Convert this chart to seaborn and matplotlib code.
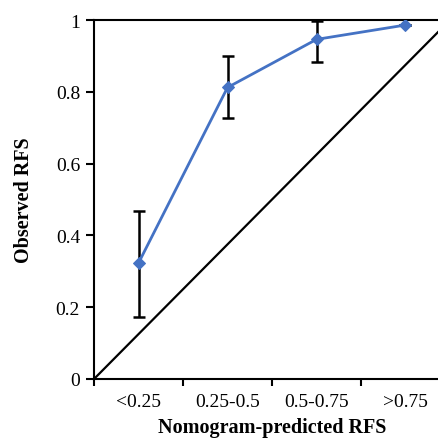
import numpy as np
import pandas as pd
import matplotlib
matplotlib.use("Agg")
import matplotlib.pyplot as plt
import seaborn as sns

categories = ["<0.25", "0.25-0.5", "0.5-0.75", ">0.75"]
observed = [0.323, 0.812, 0.946, 0.986]
err_low = [0.173, 0.727, 0.883, 0.986]
err_high = [0.468, 0.900, 0.997, 0.986]

sns.set_style("ticks", {"text.color": "black", "axes.labelcolor": "black",
                        "xtick.color": "black", "ytick.color": "black"})
plt.rcParams["font.family"] = ["Liberation Serif", "DejaVu Serif"]

df = pd.DataFrame({"pos": np.arange(len(categories)), "obs": observed})

fig = plt.figure(figsize=(4.38, 4.39), dpi=100)
ax = fig.add_axes([94 / 438, 59 / 439, 356 / 438, 359 / 439])

# reference diagonal
ax.plot([-0.5, 3.5], [0, 1], color="black", lw=1.6, zorder=1)

# confidence intervals
lo = np.array(observed) - np.array(err_low)
hi = np.array(err_high) - np.array(observed)
ax.errorbar(df["pos"], df["obs"], yerr=[lo, hi], fmt="none", ecolor="black",
            elinewidth=1.8, capsize=4, capthick=1.8, zorder=2)

sns.lineplot(data=df, x="pos", y="obs", ax=ax, color="#4472C4", lw=2,
             marker="D", markersize=6, markeredgecolor="#4472C4", zorder=3)

ax.set_xlim(-0.5, 3.5)
ax.set_ylim(0, 1)
ax.set_xticks([-0.5, 0.5, 1.5, 2.5, 3.5])
ax.set_xticklabels([])
ax.set_xticks(range(len(categories)), minor=True)
ax.set_xticklabels(categories, minor=True)
ax.tick_params(axis="x", which="minor", length=0, pad=10, labelsize=14)
ax.tick_params(axis="x", which="major", length=5, width=1.5, direction="out")
ax.set_yticks([0, 0.2, 0.4, 0.6, 0.8, 1])
ax.set_yticklabels(["0", "0.2", "0.4", "0.6", "0.8", "1"])
ax.tick_params(axis="y", length=6, width=1.5, labelsize=14, pad=4)

for s in ax.spines.values():
    s.set_linewidth(1.5)
    s.set_color("black")

ax.set_xlabel("Nomogram-predicted RFS", fontsize=14.5, fontweight="bold", labelpad=5)
ax.set_ylabel("Observed RFS", fontsize=14.5, fontweight="bold", labelpad=16)

fig.savefig("out.png", dpi=100)
